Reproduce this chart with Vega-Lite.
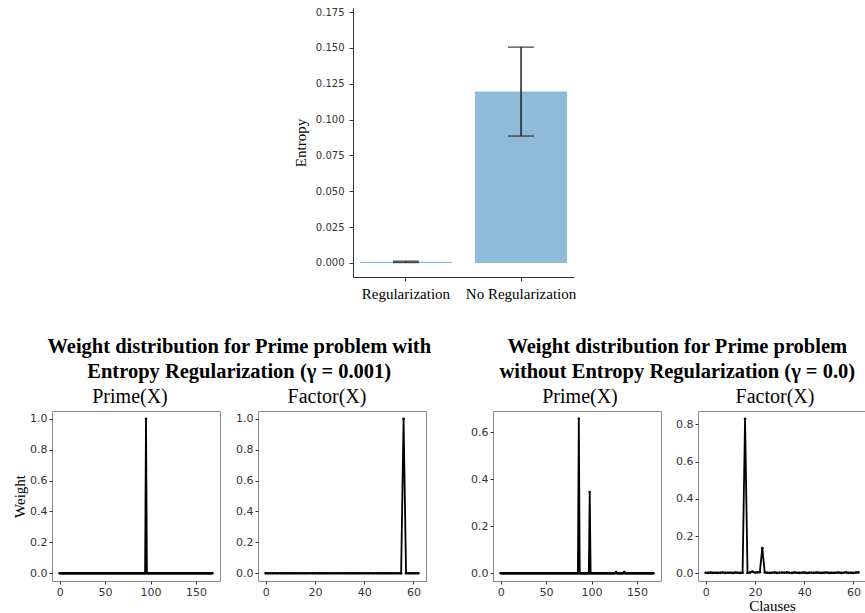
{
"$schema": "https://vega.github.io/schema/vega-lite/v6.json",
"padding": {"left": 12, "top": 5, "right": 0, "bottom": 0},
"background": "white",
"config": {
 "view": {"stroke": null},
 "axis": {"grid": false, "domain": false, "tickSize": 3, "tickColor": "#333", "labelFont": "DejaVu Sans", "labelFontSize": 11, "labelColor": "#333", "labelPadding": 2, "titleFont": "Liberation Serif", "titleFontSize": 15, "titleFontWeight": "normal", "titleColor": "black"},
 "title": {"font": "Liberation Serif", "color": "black"}
},
"datasets": {
 "bars": [
  {"cond": "Regularization", "value": 0.0008, "lo": 0.0003, "hi": 0.0012},
  {"cond": "No Regularization", "value": 0.1195, "lo": 0.0885, "hi": 0.1505}
 ],
 "p1": [
{"x":0,"y":0},{"x":1,"y":0},{"x":2,"y":0},{"x":3,"y":0},{"x":4,"y":0},{"x":5,"y":0},{"x":6,"y":0},{"x":7,"y":0},{"x":8,"y":0},{"x":9,"y":0},
{"x":10,"y":0},{"x":11,"y":0},{"x":12,"y":0},{"x":13,"y":0},{"x":14,"y":0},{"x":15,"y":0},{"x":16,"y":0},{"x":17,"y":0},{"x":18,"y":0},{"x":19,"y":0},
{"x":20,"y":0},{"x":21,"y":0},{"x":22,"y":0},{"x":23,"y":0},{"x":24,"y":0},{"x":25,"y":0},{"x":26,"y":0},{"x":27,"y":0},{"x":28,"y":0},{"x":29,"y":0},
{"x":30,"y":0},{"x":31,"y":0},{"x":32,"y":0},{"x":33,"y":0},{"x":34,"y":0},{"x":35,"y":0},{"x":36,"y":0},{"x":37,"y":0},{"x":38,"y":0},{"x":39,"y":0},
{"x":40,"y":0},{"x":41,"y":0},{"x":42,"y":0},{"x":43,"y":0},{"x":44,"y":0},{"x":45,"y":0},{"x":46,"y":0},{"x":47,"y":0},{"x":48,"y":0},{"x":49,"y":0},
{"x":50,"y":0},{"x":51,"y":0},{"x":52,"y":0},{"x":53,"y":0},{"x":54,"y":0},{"x":55,"y":0},{"x":56,"y":0},{"x":57,"y":0},{"x":58,"y":0},{"x":59,"y":0},
{"x":60,"y":0},{"x":61,"y":0},{"x":62,"y":0},{"x":63,"y":0},{"x":64,"y":0},{"x":65,"y":0},{"x":66,"y":0},{"x":67,"y":0},{"x":68,"y":0},{"x":69,"y":0},
{"x":70,"y":0},{"x":71,"y":0},{"x":72,"y":0},{"x":73,"y":0},{"x":74,"y":0},{"x":75,"y":0},{"x":76,"y":0},{"x":77,"y":0},{"x":78,"y":0},{"x":79,"y":0},
{"x":80,"y":0},{"x":81,"y":0},{"x":82,"y":0},{"x":83,"y":0},{"x":84,"y":0},{"x":85,"y":0},{"x":86,"y":0},{"x":87,"y":0},{"x":88,"y":0},{"x":89,"y":0},
{"x":90,"y":0},{"x":91,"y":0},{"x":92,"y":0},{"x":93,"y":0},{"x":94,"y":0},{"x":95,"y":1.0},{"x":96,"y":0},{"x":97,"y":0},{"x":98,"y":0},{"x":99,"y":0},
{"x":100,"y":0},{"x":101,"y":0},{"x":102,"y":0},{"x":103,"y":0},{"x":104,"y":0},{"x":105,"y":0},{"x":106,"y":0},{"x":107,"y":0},{"x":108,"y":0},{"x":109,"y":0},
{"x":110,"y":0},{"x":111,"y":0},{"x":112,"y":0},{"x":113,"y":0},{"x":114,"y":0},{"x":115,"y":0},{"x":116,"y":0},{"x":117,"y":0},{"x":118,"y":0},{"x":119,"y":0},
{"x":120,"y":0},{"x":121,"y":0},{"x":122,"y":0},{"x":123,"y":0},{"x":124,"y":0},{"x":125,"y":0},{"x":126,"y":0},{"x":127,"y":0},{"x":128,"y":0},{"x":129,"y":0},
{"x":130,"y":0},{"x":131,"y":0},{"x":132,"y":0},{"x":133,"y":0},{"x":134,"y":0},{"x":135,"y":0},{"x":136,"y":0},{"x":137,"y":0},{"x":138,"y":0},{"x":139,"y":0},
{"x":140,"y":0},{"x":141,"y":0},{"x":142,"y":0},{"x":143,"y":0},{"x":144,"y":0},{"x":145,"y":0},{"x":146,"y":0},{"x":147,"y":0},{"x":148,"y":0},{"x":149,"y":0},
{"x":150,"y":0},{"x":151,"y":0},{"x":152,"y":0},{"x":153,"y":0},{"x":154,"y":0},{"x":155,"y":0},{"x":156,"y":0},{"x":157,"y":0},{"x":158,"y":0},{"x":159,"y":0},
{"x":160,"y":0},{"x":161,"y":0},{"x":162,"y":0},{"x":163,"y":0},{"x":164,"y":0},{"x":165,"y":0},{"x":166,"y":0},{"x":167,"y":0},{"x":168,"y":0}
 ],
 "p2": [
{"x":0,"y":0},{"x":1,"y":0},{"x":2,"y":0},{"x":3,"y":0},{"x":4,"y":0},{"x":5,"y":0},{"x":6,"y":0},{"x":7,"y":0},{"x":8,"y":0},{"x":9,"y":0},
{"x":10,"y":0},{"x":11,"y":0},{"x":12,"y":0},{"x":13,"y":0},{"x":14,"y":0},{"x":15,"y":0},{"x":16,"y":0},{"x":17,"y":0},{"x":18,"y":0},{"x":19,"y":0},
{"x":20,"y":0},{"x":21,"y":0},{"x":22,"y":0},{"x":23,"y":0},{"x":24,"y":0},{"x":25,"y":0},{"x":26,"y":0},{"x":27,"y":0},{"x":28,"y":0},{"x":29,"y":0},
{"x":30,"y":0},{"x":31,"y":0},{"x":32,"y":0},{"x":33,"y":0},{"x":34,"y":0},{"x":35,"y":0},{"x":36,"y":0},{"x":37,"y":0},{"x":38,"y":0},{"x":39,"y":0},
{"x":40,"y":0},{"x":41,"y":0},{"x":42,"y":0},{"x":43,"y":0},{"x":44,"y":0},{"x":45,"y":0},{"x":46,"y":0},{"x":47,"y":0},{"x":48,"y":0},{"x":49,"y":0},
{"x":50,"y":0},{"x":51,"y":0},{"x":52,"y":0},{"x":53,"y":0},{"x":54,"y":0},{"x":55,"y":0},{"x":56,"y":1.0},{"x":57,"y":0},{"x":58,"y":0},{"x":59,"y":0},
{"x":60,"y":0},{"x":61,"y":0},{"x":62,"y":0}
 ],
 "p3": [
{"x":0,"y":0},{"x":1,"y":0},{"x":2,"y":0},{"x":3,"y":0},{"x":4,"y":0},{"x":5,"y":0},{"x":6,"y":0},{"x":7,"y":0},{"x":8,"y":0},{"x":9,"y":0},
{"x":10,"y":0},{"x":11,"y":0},{"x":12,"y":0},{"x":13,"y":0},{"x":14,"y":0},{"x":15,"y":0},{"x":16,"y":0},{"x":17,"y":0},{"x":18,"y":0},{"x":19,"y":0},
{"x":20,"y":0},{"x":21,"y":0},{"x":22,"y":0},{"x":23,"y":0},{"x":24,"y":0},{"x":25,"y":0},{"x":26,"y":0},{"x":27,"y":0},{"x":28,"y":0},{"x":29,"y":0},
{"x":30,"y":0},{"x":31,"y":0},{"x":32,"y":0},{"x":33,"y":0},{"x":34,"y":0},{"x":35,"y":0},{"x":36,"y":0},{"x":37,"y":0},{"x":38,"y":0},{"x":39,"y":0},
{"x":40,"y":0},{"x":41,"y":0},{"x":42,"y":0},{"x":43,"y":0},{"x":44,"y":0},{"x":45,"y":0},{"x":46,"y":0},{"x":47,"y":0},{"x":48,"y":0},{"x":49,"y":0},
{"x":50,"y":0},{"x":51,"y":0},{"x":52,"y":0},{"x":53,"y":0},{"x":54,"y":0},{"x":55,"y":0},{"x":56,"y":0},{"x":57,"y":0},{"x":58,"y":0},{"x":59,"y":0},
{"x":60,"y":0},{"x":61,"y":0},{"x":62,"y":0},{"x":63,"y":0},{"x":64,"y":0},{"x":65,"y":0},{"x":66,"y":0},{"x":67,"y":0},{"x":68,"y":0},{"x":69,"y":0},
{"x":70,"y":0},{"x":71,"y":0},{"x":72,"y":0},{"x":73,"y":0},{"x":74,"y":0},{"x":75,"y":0},{"x":76,"y":0},{"x":77,"y":0},{"x":78,"y":0},{"x":79,"y":0},
{"x":80,"y":0},{"x":81,"y":0},{"x":82,"y":0},{"x":83,"y":0},{"x":84,"y":0},{"x":85,"y":0},{"x":86,"y":0.657},{"x":87,"y":0},{"x":88,"y":0},{"x":89,"y":0},
{"x":90,"y":0},{"x":91,"y":0},{"x":92,"y":0},{"x":93,"y":0},{"x":94,"y":0},{"x":95,"y":0},{"x":96,"y":0},{"x":97,"y":0},{"x":98,"y":0.345},{"x":99,"y":0},
{"x":100,"y":0},{"x":101,"y":0},{"x":102,"y":0},{"x":103,"y":0},{"x":104,"y":0},{"x":105,"y":0},{"x":106,"y":0},{"x":107,"y":0},{"x":108,"y":0},{"x":109,"y":0},
{"x":110,"y":0},{"x":111,"y":0},{"x":112,"y":0},{"x":113,"y":0},{"x":114,"y":0},{"x":115,"y":0},{"x":116,"y":0},{"x":117,"y":0},{"x":118,"y":0},{"x":119,"y":0},
{"x":120,"y":0},{"x":121,"y":0},{"x":122,"y":0},{"x":123,"y":0},{"x":124,"y":0},{"x":125,"y":0},{"x":126,"y":0},{"x":127,"y":0.005},{"x":128,"y":0},{"x":129,"y":0},
{"x":130,"y":0},{"x":131,"y":0},{"x":132,"y":0},{"x":133,"y":0},{"x":134,"y":0},{"x":135,"y":0},{"x":136,"y":0.005},{"x":137,"y":0},{"x":138,"y":0},{"x":139,"y":0},
{"x":140,"y":0},{"x":141,"y":0},{"x":142,"y":0},{"x":143,"y":0},{"x":144,"y":0},{"x":145,"y":0},{"x":146,"y":0},{"x":147,"y":0},{"x":148,"y":0},{"x":149,"y":0},
{"x":150,"y":0},{"x":151,"y":0},{"x":152,"y":0},{"x":153,"y":0},{"x":154,"y":0},{"x":155,"y":0},{"x":156,"y":0},{"x":157,"y":0},{"x":158,"y":0},{"x":159,"y":0},
{"x":160,"y":0},{"x":161,"y":0},{"x":162,"y":0},{"x":163,"y":0},{"x":164,"y":0},{"x":165,"y":0},{"x":166,"y":0},{"x":167,"y":0},{"x":168,"y":0}
 ],
 "p4": [
{"x":0,"y":0.003},{"x":1,"y":0.002},{"x":2,"y":0.004},{"x":3,"y":0.002},{"x":4,"y":0.003},{"x":5,"y":0.002},{"x":6,"y":0.003},{"x":7,"y":0.004},{"x":8,"y":0.002},{"x":9,"y":0.003},
{"x":10,"y":0.003},{"x":11,"y":0.002},{"x":12,"y":0.004},{"x":13,"y":0.003},{"x":14,"y":0.002},{"x":15,"y":0.003},{"x":16,"y":0.83},{"x":17,"y":0.002},{"x":18,"y":0.004},{"x":19,"y":0.009},
{"x":20,"y":0.004},{"x":21,"y":0.005},{"x":22,"y":0.006},{"x":23,"y":0.135},{"x":24,"y":0.004},{"x":25,"y":0.003},{"x":26,"y":0.002},{"x":27,"y":0.003},{"x":28,"y":0.004},{"x":29,"y":0.002},
{"x":30,"y":0.003},{"x":31,"y":0.004},{"x":32,"y":0.003},{"x":33,"y":0.005},{"x":34,"y":0.003},{"x":35,"y":0.002},{"x":36,"y":0.004},{"x":37,"y":0.003},{"x":38,"y":0.002},{"x":39,"y":0.003},
{"x":40,"y":0.004},{"x":41,"y":0.002},{"x":42,"y":0.003},{"x":43,"y":0.003},{"x":44,"y":0.002},{"x":45,"y":0.004},{"x":46,"y":0.003},{"x":47,"y":0.002},{"x":48,"y":0.003},{"x":49,"y":0.004},
{"x":50,"y":0.002},{"x":51,"y":0.003},{"x":52,"y":0.002},{"x":53,"y":0.003},{"x":54,"y":0.004},{"x":55,"y":0.002},{"x":56,"y":0.003},{"x":57,"y":0.005},{"x":58,"y":0.002},{"x":59,"y":0.003},
{"x":60,"y":0.002},{"x":61,"y":0.004},{"x":62,"y":0.005}
 ]
},
"spacing": 36,
"vconcat": [
 {
  "spacing": 0,
  "hconcat": [
   {"width": 241, "height": 1, "data": {"values": [{}]}, "mark": {"type": "point", "opacity": 0}, "encoding": {}},
   {
    "width": 221, "height": 269,
    "data": {"name": "bars"},
    "encoding": {
     "x": {"field": "cond", "type": "nominal", "sort": null,
      "scale": {"paddingInner": 0.2, "paddingOuter": 0.06},
      "axis": {"title": null, "labelAngle": 0, "labelFont": "Liberation Serif", "labelFontSize": 15, "labelColor": "black", "labelPadding": 5, "domain": true, "domainColor": "#333", "tickSize": 4, "tickColor": "#333"}}
    },
    "layer": [
     {"mark": {"type": "bar", "color": "#8fbbd9"},
      "encoding": {"y": {"field": "value", "type": "quantitative",
       "scale": {"domain": [-0.0098, 0.1778], "nice": false, "zero": false},
       "axis": {"title": "Entropy", "titlePadding": 7, "values": [0, 0.025, 0.05, 0.075, 0.1, 0.125, 0.15, 0.175], "labelOverlap": false, "format": ".3f", "labelFont": "DejaVu Sans", "labelFontSize": 10, "labelColor": "#333", "labelPadding": 5, "domain": true, "domainColor": "#333", "tickSize": 4, "tickColor": "#333"}}}},
     {"mark": {"type": "rule", "color": "#222", "strokeWidth": 1.5},
      "encoding": {"y": {"field": "lo", "type": "quantitative",
       "axis": {"title": "Entropy", "titlePadding": 7, "values": [0, 0.025, 0.05, 0.075, 0.1, 0.125, 0.15, 0.175], "labelOverlap": false, "format": ".3f", "labelFont": "DejaVu Sans", "labelFontSize": 10, "labelColor": "#333", "labelPadding": 5, "domain": true, "domainColor": "#333", "tickSize": 4, "tickColor": "#333"}}, "y2": {"field": "hi"}}},
     {"mark": {"type": "tick", "orient": "horizontal", "color": "#222", "size": 26, "thickness": 1.5},
      "encoding": {"y": {"field": "lo", "type": "quantitative",
       "axis": {"title": "Entropy", "titlePadding": 7, "values": [0, 0.025, 0.05, 0.075, 0.1, 0.125, 0.15, 0.175], "labelOverlap": false, "format": ".3f", "labelFont": "DejaVu Sans", "labelFontSize": 10, "labelColor": "#333", "labelPadding": 5, "domain": true, "domainColor": "#333", "tickSize": 4, "tickColor": "#333"}}}},
     {"mark": {"type": "tick", "orient": "horizontal", "color": "#222", "size": 26, "thickness": 1.5},
      "encoding": {"y": {"field": "hi", "type": "quantitative",
       "axis": {"title": "Entropy", "titlePadding": 7, "values": [0, 0.025, 0.05, 0.075, 0.1, 0.125, 0.15, 0.175], "labelOverlap": false, "format": ".3f", "labelFont": "DejaVu Sans", "labelFontSize": 10, "labelColor": "#333", "labelPadding": 5, "domain": true, "domainColor": "#333", "tickSize": 4, "tickColor": "#333"}}}}
    ]
   }
  ]
 },
 {
  "spacing": 38,
  "hconcat": [
   {
    "title": {"text": ["Weight distribution for Prime problem with", "Entropy Regularization (γ = 0.001)"], "anchor": "middle", "fontSize": 20.5, "fontWeight": "bold", "lineHeight": 25, "offset": 4, "dx": 20, "color": "black"},
    "spacing": 14,
    "hconcat": [
     {
      "width": 168, "height": 170,
      "view": {"stroke": "#888"},
      "title": {"text": "Prime(X)", "fontSize": 20, "fontWeight": "normal", "offset": 4, "dx": -6, "color": "black"},
      "data": {"name": "p1"},
      "mark": {"type": "line", "color": "black", "strokeWidth": 1.8, "point": {"filled": true, "size": 7, "color": "black"}},
      "encoding": {
       "x": {"field": "x", "type": "quantitative", "scale": {"domain": [-8.4, 176.4], "nice": false, "zero": false}, "axis": {"values": [0, 50, 100, 150], "title": null}},
       "y": {"field": "y", "type": "quantitative", "scale": {"domain": [-0.05, 1.05], "nice": false, "zero": false}, "axis": {"values": [0, 0.2, 0.4, 0.6, 0.8, 1.0], "format": ".1f", "title": "Weight", "titlePadding": 2}}
      }
     },
     {
      "width": 168, "height": 170,
      "view": {"stroke": "#888"},
      "title": {"text": "Factor(X)", "fontSize": 20, "fontWeight": "normal", "offset": 4, "dx": -15, "color": "black"},
      "data": {"name": "p2"},
      "mark": {"type": "line", "color": "black", "strokeWidth": 1.8, "point": {"filled": true, "size": 7, "color": "black"}},
      "encoding": {
       "x": {"field": "x", "type": "quantitative", "scale": {"domain": [-3.1, 65.1], "nice": false, "zero": false}, "axis": {"values": [0, 20, 40, 60], "title": null}},
       "y": {"field": "y", "type": "quantitative", "scale": {"domain": [-0.05, 1.05], "nice": false, "zero": false}, "axis": {"values": [0, 0.2, 0.4, 0.6, 0.8, 1.0], "format": ".1f", "title": null}}
      }
     }
    ]
   },
   {
    "title": {"text": ["Weight distribution for Prime problem", "without Entropy Regularization (γ = 0.0)"], "anchor": "middle", "fontSize": 20.5, "fontWeight": "bold", "lineHeight": 25, "offset": 4, "dx": 9, "color": "black"},
    "spacing": 13,
    "hconcat": [
     {
      "width": 168, "height": 170,
      "view": {"stroke": "#888"},
      "title": {"text": "Prime(X)", "fontSize": 20, "fontWeight": "normal", "offset": 4, "dx": 3, "color": "black"},
      "data": {"name": "p3"},
      "mark": {"type": "line", "color": "black", "strokeWidth": 1.8, "point": {"filled": true, "size": 7, "color": "black"}},
      "encoding": {
       "x": {"field": "x", "type": "quantitative", "scale": {"domain": [-8.4, 176.4], "nice": false, "zero": false}, "axis": {"values": [0, 50, 100, 150], "title": null}},
       "y": {"field": "y", "type": "quantitative", "scale": {"domain": [-0.033, 0.69], "nice": false, "zero": false}, "axis": {"values": [0, 0.2, 0.4, 0.6], "format": ".1f", "title": null}}
      }
     },
     {
      "width": 168, "height": 170,
      "view": {"stroke": "#888"},
      "title": {"text": "Factor(X)", "fontSize": 20, "fontWeight": "normal", "offset": 4, "dx": -7, "color": "black"},
      "data": {"name": "p4"},
      "mark": {"type": "line", "color": "black", "strokeWidth": 1.8, "point": {"filled": true, "size": 7, "color": "black"}},
      "encoding": {
       "x": {"field": "x", "type": "quantitative", "scale": {"domain": [-3.1, 65.1], "nice": false, "zero": false}, "axis": {"values": [0, 20, 40, 60], "title": "Clauses", "titlePadding": 1, "titleX": 74}},
       "y": {"field": "y", "type": "quantitative", "scale": {"domain": [-0.0415, 0.8715], "nice": false, "zero": false}, "axis": {"values": [0, 0.2, 0.4, 0.6, 0.8], "format": ".1f", "title": null}}
      }
     }
    ]
   }
  ]
 }
]
}
